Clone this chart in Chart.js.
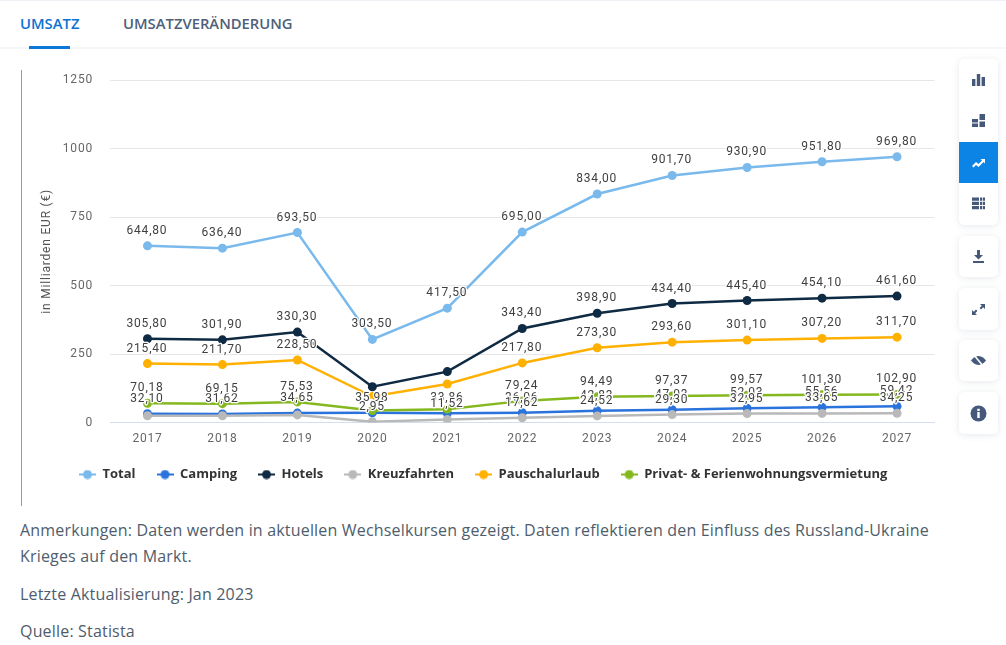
<!DOCTYPE html>
<html lang="de">
<head>
<meta charset="utf-8">
<title>Umsatz</title>
<script src="https://cdn.jsdelivr.net/npm/chart.js@4"></script>
<style>
  html, body { margin: 0; padding: 0; background: #fff; }
  body { width: 1006px; height: 645px; overflow: hidden; position: relative; font-family: "Open Sans", sans-serif; color: #4e5d6c; }
  .tabs { position: absolute; left: 0; top: 0; width: 1006px; height: 46px; border-top: 1px solid #eef1f5; border-bottom: 2px solid #f4f6f9; box-sizing: content-box; }
  .tab { position: absolute; top: 13px; font-size: 14.8px; font-weight: 600; line-height: 19px; color: #4e607a; }
  .tab.on { left: 20px; color: #0b72d0; }
  .tab.off { left: 123px; }
  .tabline { position: absolute; left: 29px; top: 45px; width: 41px; height: 3px; background: #0b78d8; }
  .rule { position: absolute; left: 21px; top: 70px; width: 1px; height: 436px; background: #9a9a9a; }
  #wrap { position: absolute; left: 0; top: 0; width: 950px; height: 560px; }
  .note { position: absolute; left: 20px; font-size: 16px; line-height: 26px; white-space: nowrap; letter-spacing: .18px; }
  .btn { position: absolute; left: 959px; width: 39px; background: #fff; border-radius: 5px; box-shadow: 0 1px 7px rgba(70,90,120,.14); }
  .btn svg { position: absolute; left: 12px; width: 15px; height: 15px; fill: #46597a; }
  .btn .on { position: absolute; left: 0; top: 83px; width: 39px; height: 41px; background: #0b84e6; }
</style>
</head>
<body>
<div class="tabs">
  <div class="tab on">UMSATZ</div>
  <div class="tab off">UMSATZVERÄNDERUNG</div>
  <div class="tabline"></div>
</div>
<div class="rule"></div>
<div class="note" style="top:517px">Anmerkungen: Daten werden in aktuellen Wechselkursen gezeigt. Daten reflektieren den Einfluss des Russland-Ukraine</div>
<div class="note" style="top:543px">Krieges auf den Markt.</div>
<div class="note" style="top:581px">Letzte Aktualisierung: Jan 2023</div>
<div class="note" style="top:618px">Quelle: Statista</div>
<div id="wrap"><canvas id="chart" width="950" height="560"></canvas></div>

<div class="btn" style="top:59px;height:166px">
  <div class="on"></div>
  <svg style="top:13px" viewBox="0 0 15 15"><path d="M1 7h3.400v7H1zM5.800 2h3.400v12H5.800zM10.600 5H14v9h-3.400z"/></svg>
  <svg style="top:54px" viewBox="0 0 15 15"><path d="M8.500 1H14v6H8.500zM8.500 8.500H14V14H8.500zM1 6h6v3.500H1zM1 10.500h6V14H1z"/></svg>
  <svg style="top:96px;fill:#fff" viewBox="0 0 15 15"><path d="M1 11l4-4 2.500 2L11 5.500 9.500 4H14v4.500L12.500 7 7.500 12 5 10l-2.500 2.500z"/></svg>
  <svg style="top:137px" viewBox="0 0 15 15"><path d="M1 1.500h7v3.200H1zM9 1.500h2.300v3.200H9zM12 1.500h2v3.200h-2zM1 5.800h7V9H1zM9 5.800h2.300V9H9zM12 5.800h2V9h-2zM1 10.100h7v3.200H1zM9 10.100h2.300v3.200H9zM12 10.100h2v3.200h-2z"/></svg>
</div>
<div class="btn" style="top:236px;height:41px">
  <svg style="top:13px" viewBox="0 0 15 15"><path d="M6 1h3v5h3L7.500 10.500 3 6h3zM2 12h11v2H2z"/></svg>
</div>
<div class="btn" style="top:288px;height:42px">
  <svg style="top:14px" viewBox="0 0 15 15"><path d="M9 2h5v5l-1.800-1.800-2.200 2.200-1.400-1.400 2.200-2.200zM6 13H1V8l1.800 1.800 2.200-2.200 1.400 1.400-2.200 2.200z"/></svg>
</div>
<div class="btn" style="top:340px;height:41px">
  <svg style="top:13px" viewBox="0 0 15 15"><path d="M7.500 3C11 3 13.500 5.500 15 7.500 13.500 9.500 11 12 7.500 12S1.500 9.500 0 7.500C1.500 5.500 4 3 7.500 3z"/><path d="M2.500 1.500l10 12" stroke="#fff" stroke-width="1.600"/></svg>
</div>
<div class="btn" style="top:392px;height:42px">
  <svg style="top:13px;left:11px;width:17px;height:17px" viewBox="0 0 17 17"><circle cx="8.500" cy="8.500" r="8"/><path d="M7.300 7h2.400v6H7.300zM7.300 3.700h2.400v2.200H7.300z" fill="#fff"/></svg>
</div>

<script>
const years = ['2017', '2018', '2019', '2020', '2021', '2022', '2023', '2024', '2025', '2026', '2027'];
const yTicks = [0, 250, 500, 750, 1000, 1250];

const total = [644.8, 636.4, 693.5, 303.5, 417.5, 695, 834, 901.7, 930.9, 951.8, 969.8];
const camping = [32.1, 31.62, 34.65, 35.98, 33.86, 36.06, 42.83, 47.03, 52.03, 55.56, 59.42];
const hotels = [305.8, 301.9, 330.3, 131, 186, 343.4, 398.9, 434.4, 445.4, 454.1, 461.6];
const kreuzfahrten = [25, 25, 28, 2.95, 11.52, 17.62, 24.52, 29.3, 32.95, 33.65, 34.25];
const pauschal = [215.4, 211.7, 228.5, 95, 141, 217.8, 273.3, 293.6, 301.1, 307.2, 311.7];
const privat = [70.18, 69.15, 75.53, 44, 49, 79.24, 94.49, 97.37, 99.57, 101.3, 102.9];

// years whose value label is not shown in the original
const noLabel = {
  Hotels: ['2020', '2021'],
  Pauschalurlaub: ['2020', '2021'],
  Kreuzfahrten: ['2017', '2018', '2019'],
  'Privat- & Ferienwohnungsvermietung': ['2020', '2021']
};

const FONT = 'Roboto, sans-serif';

function ds(label, data, color, order) {
  return {
    label, data, order,
    borderColor: color,
    backgroundColor: color,
    borderWidth: 2.5,
    pointRadius: 4.5,
    pointHoverRadius: 4.5,
    pointBorderWidth: 0,
    tension: 0
  };
}

// little line + dot for the legend
function legendIcon(color) {
  const c = document.createElement('canvas');
  c.width = 17; c.height = 10;
  const x = c.getContext('2d');
  x.fillStyle = color;
  x.fillRect(0, 4, 17, 2);
  x.beginPath();
  x.arc(8.5, 5, 4.5, 0, Math.PI * 2);
  x.fill();
  return c;
}

function drawLabels(chart, index) {
  const set = chart.data.datasets[index];
  const skip = noLabel[set.label] || [];
  const ctx = chart.ctx;
  ctx.save();
  ctx.font = '12px ' + FONT;
  ctx.textAlign = 'center';
  ctx.textBaseline = 'middle';
  ctx.lineJoin = 'round';
  chart.getDatasetMeta(index).data.forEach((pt, i) => {
    if (skip.includes(years[i])) return;
    const txt = set.data[i].toFixed(2).replace('.', ',');
    ctx.strokeStyle = '#fff';
    ctx.lineWidth = 2.5;
    ctx.strokeText(txt, pt.x - 0.5, pt.y - 15);
    ctx.fillStyle = '#3f3f3f';
    ctx.fillText(txt, pt.x - 0.5, pt.y - 15);
  });
  ctx.restore();
}

const labelPlugin = {
  id: 'valueLabels',
  beforeDraw(chart) {
    chart.ctx.letterSpacing = '0.8px';
  },
  // labels sit on top of every line and marker, in series order
  afterDatasetsDraw(chart) {
    chart.data.datasets.forEach((d, i) => drawLabels(chart, i));
  },
  afterLayout(chart) {
    const legend = chart.legend;
    legend.left = 58;
    legend.right = 945;
    legend.top = 447;
    legend.bottom = 506;
    // the legend text has no letter spacing, only ticks and labels do
    const draw = legend.draw;
    if (!legend.spacingOff) {
      legend.spacingOff = true;
      legend.draw = function (area) {
        const ctx = chart.ctx;
        ctx.save();
        ctx.letterSpacing = '0px';
        draw.call(legend, area);
        ctx.restore();
      };
    }
  }
};

new Chart(document.getElementById('chart'), {
  type: 'line',
  data: {
    labels: years,
    datasets: [
      ds('Total', total, '#7ab9ec', 6),
      ds('Camping', camping, '#2a72dc', 5),
      ds('Hotels', hotels, '#0f2a43', 4),
      ds('Kreuzfahrten', kreuzfahrten, '#b9b9b9', 3),
      ds('Pauschalurlaub', pauschal, '#ffb000', 2),
      ds('Privat- & Ferienwohnungsvermietung', privat, '#84b81e', 1)
    ]
  },
  plugins: [labelPlugin],
  options: {
    responsive: false,
    animation: false,
    events: [],
    layout: { padding: { left: 40, top: 80, right: 15.5, bottom: 53.4 } },
    plugins: {
      tooltip: { enabled: false },
      legend: {
        position: 'bottom',
        align: 'start',
        labels: {
          color: '#333',
          font: { family: '"Open Sans", sans-serif', size: 13, weight: '700' },
          usePointStyle: true,
          boxHeight: 10,
          pointStyleWidth: 17,
          padding: 21,
          generateLabels(chart) {
            return chart.data.datasets.map((d, i) => ({
              text: d.label,
              fontColor: '#333',
              pointStyle: legendIcon(d.borderColor),
              datasetIndex: i,
              lineWidth: 0
            }));
          }
        }
      }
    },
    scales: {
      x: {
        offset: true,
        afterFit: s => { s.height = 40; },
        grid: { display: false },
        border: { color: '#d5deee', width: 1 },
        ticks: { color: '#666', font: { family: FONT, size: 12 }, maxRotation: 0, padding: 1 }
      },
      y: {
        min: 0,
        max: 1250,
        afterFit: s => { s.width = 70; },
        afterBuildTicks: s => { s.ticks = yTicks.map(v => ({ value: v })); },
        title: {
          display: true,
          text: 'in Milliarden EUR (€)',
          color: '#555',
          font: { family: FONT, size: 12 },
          padding: 0
        },
        grid: { color: '#e6e6e6', drawTicks: false },
        border: { display: false },
        ticks: { color: '#666', font: { family: FONT, size: 12 }, padding: 17, callback: v => String(v) }
      }
    }
  }
});
</script>
</body>
</html>
